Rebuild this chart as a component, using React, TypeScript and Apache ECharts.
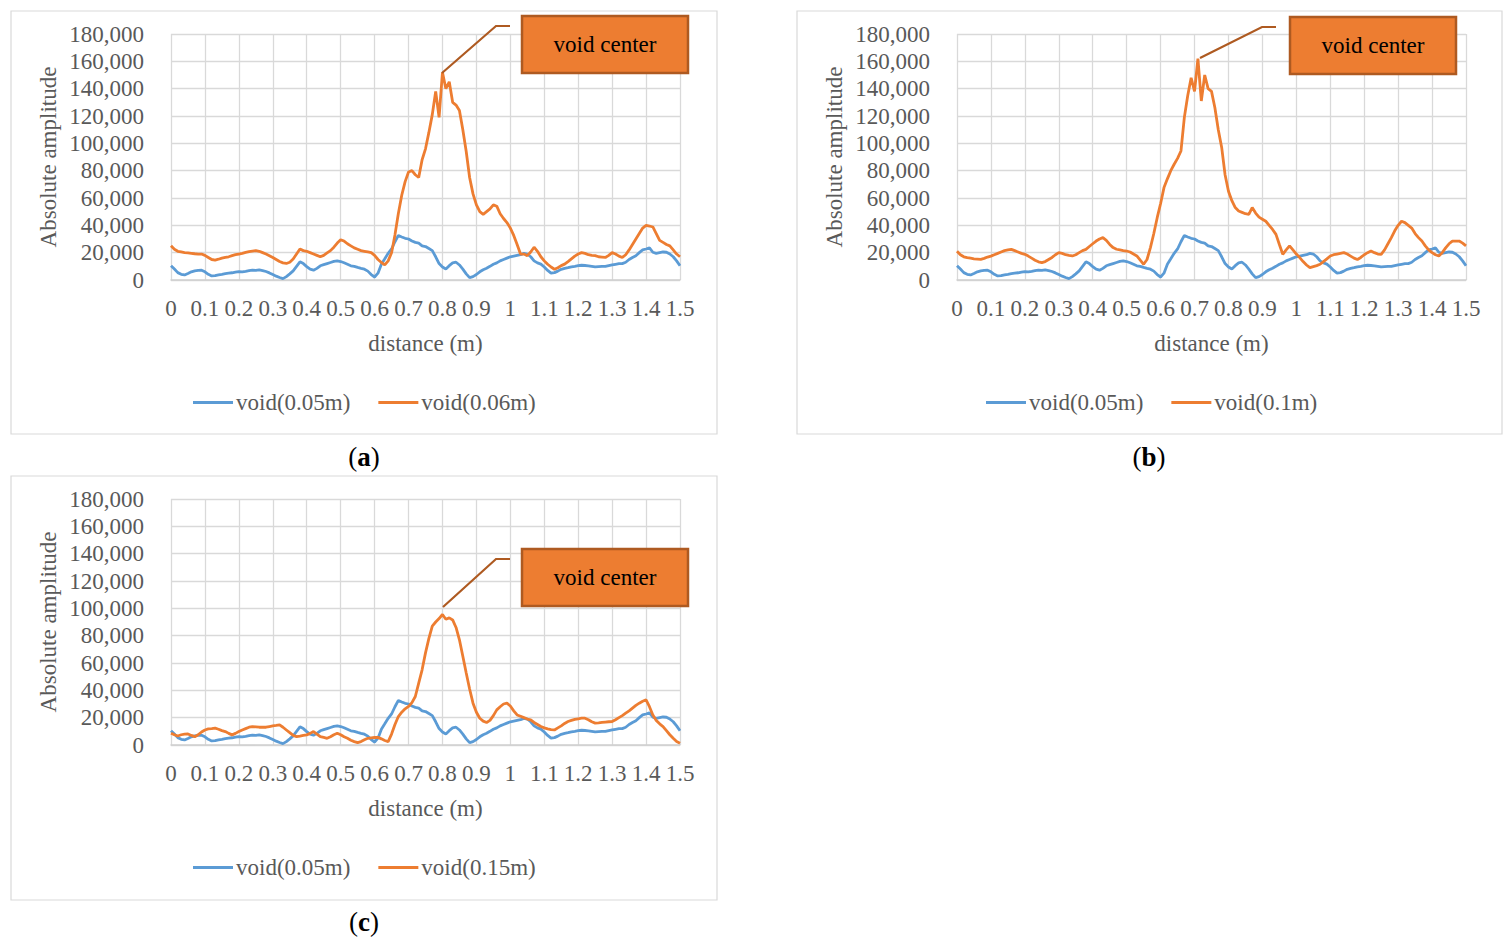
import React, { useEffect, useRef } from "react";
import * as echarts from "echarts";

// distance grid (m): 0.00 .. 1.50 step 0.01
const distances: number[] = Array.from({ length: 151 }, (_, i) => Math.round(i) / 100);

const void005: number[] = [
  10400, 8000, 5400, 4200, 3700, 4800, 6000, 6700, 7000, 7200,
  6000, 4200, 3000, 3200, 3800, 4200, 4700, 5000, 5300, 5800,
  6200, 5900, 6300, 6800, 7200, 7000, 7400, 6900, 6200, 5200,
  4000, 2800, 1800, 1000, 2500, 4500, 6700, 10000, 13300, 12000,
  9800, 7900, 7200, 8500, 10400, 11200, 12000, 12800, 13600, 14000,
  13500, 12600, 11500, 10400, 10000, 9200, 8500, 7900, 6500, 4000,
  2200, 5000, 11600, 15500, 19500, 22700, 28000, 32600, 31500, 30500,
  30000, 28500, 27500, 27000, 25000, 24500, 23000, 21500, 17000, 12000,
  9500, 8000, 10500, 12500, 13000, 11000, 8000, 4500, 1700, 2500,
  4000, 6000, 7500, 8600, 10000, 11500, 12500, 14000, 15000, 16000,
  17000, 17500, 18000, 18500, 19500, 19000, 17000, 14000, 12500, 11600,
  9500, 7000, 5000, 5400, 6500, 7800, 8500, 9000, 9600, 10000,
  10500, 10800, 10600, 10400, 10000, 9600, 9800, 9900, 9900, 10500,
  11000, 11500, 12000, 12000, 13000, 15000, 16500, 17800, 20000, 22000,
  22700, 23500, 20300, 19500, 20000, 20500, 20300, 19000, 17000, 14000,
  10400,
];

const void006: number[] = [
  25000, 22500, 21000, 20500, 20000, 19800, 19500, 19200, 19000, 19000,
  18000, 16500, 15000, 14600, 15200, 16000, 16500, 17000, 17800, 18500,
  19000, 19500, 20200, 20800, 21200, 21500, 21000, 20000, 19000, 17800,
  16500, 15000, 13500, 12500, 12100, 13000, 15300, 19000, 22700, 21500,
  21000, 20000, 19000, 18000, 17000, 18000, 19800, 21500, 24000, 27000,
  29400, 28500, 26500, 25000, 23500, 22500, 21500, 21000, 20500, 20000,
  18000, 15000, 12800, 11000, 14000, 20000, 33000, 48600, 62000, 72000,
  79000, 80000, 77000, 75000, 88000, 96000, 108000, 121000, 138000, 119000,
  152000, 140000, 145000, 130000, 128000, 124000, 110000, 94000, 75000, 63000,
  55000, 50000, 48000, 50000, 52000, 55000, 54000, 48500, 45000, 42000,
  38000, 32600, 26000, 19000, 19000, 17800, 20500, 24000, 21000, 17000,
  14000, 11500, 9500, 7900, 9000, 10500, 11600, 13500, 15500, 17500,
  19000, 20000, 19500, 18500, 18000, 17800, 17000, 16800, 16500, 18000,
  20000, 19000, 17500, 16500, 18500, 22000, 26000, 30000, 34000, 38000,
  40000, 39500, 38800, 34000, 29000, 27500, 26000, 25000, 22000, 19000,
  17000,
];

const void01: number[] = [
  21000, 18500, 17000, 16400, 16000, 15500, 15300, 15100, 15800, 16800,
  17500, 18500, 19500, 20500, 21500, 22000, 22400, 21500, 20500, 19500,
  18800, 17500, 16000, 14500, 13300, 12700, 13500, 15000, 16500, 18500,
  20000, 19500, 18500, 18000, 17600, 18500, 20000, 21500, 22400, 24500,
  26500, 28500, 30000, 31000, 29000, 26000, 23700, 22500, 22000, 21500,
  21200, 20500, 19000, 17600, 14500, 11500, 15000, 23700, 34000, 45600,
  56000, 67600, 74000, 80000, 84700, 89000, 94400, 119000, 135000, 148000,
  138000, 162000, 131000, 150000, 140000, 138000, 126000, 110000, 97000, 77000,
  65000, 58000, 53000, 50500, 49500, 48500, 48000, 53000, 49000, 46000,
  44500, 43000, 40000, 37000, 33400, 26000, 18800, 22000, 25000, 22000,
  19000, 16400, 13500, 11000, 9000, 9800, 10500, 11500, 13500, 15500,
  17600, 18500, 19000, 19500, 20000, 19000, 17500, 16000, 15000, 16500,
  18500, 20000, 21200, 20000, 19000, 18800, 22000, 26500, 31000, 36000,
  40000, 43000, 42000, 40000, 38000, 34000, 31000, 28500, 25000, 22000,
  20000, 18500, 17600, 20000, 23500, 26500, 28500, 28500, 28500, 27000,
  25000,
];

const void015: number[] = [
  8600, 7500, 6600, 7500, 8000, 8100, 7000, 6100, 7500, 9500,
  11000, 11800, 12000, 12300, 11500, 10500, 9800, 8500, 7400, 8500,
  9800, 11000, 12000, 13000, 13500, 13300, 13000, 13000, 13000, 13500,
  14000, 14300, 14700, 13000, 11000, 9000, 7000, 6100, 6500, 7000,
  7400, 8500, 9800, 8000, 6100, 5500, 4900, 6000, 7500, 8600,
  7500, 6000, 4900, 3500, 2500, 1700, 2500, 3800, 4900, 5200,
  5500, 5600, 4500, 3300, 2500, 8000, 15000, 20800, 24000, 26500,
  28200, 31000, 35500, 45300, 55000, 67400, 78000, 87000, 90000, 92500,
  95500, 92000, 93000, 91500, 86000, 77000, 65000, 52700, 41000, 30600,
  24000, 19600, 17500, 16500, 18000, 21500, 25700, 28000, 30000, 30600,
  28500, 25000, 22000, 21000, 20000, 19000, 18400, 16500, 15000, 13500,
  12500, 11800, 11200, 11000, 12500, 14000, 15800, 17200, 18000, 18800,
  19200, 19600, 19600, 18500, 17000, 16000, 16200, 16500, 16800, 17000,
  17200, 18500, 20000, 21500, 23300, 25000, 27000, 29000, 30600, 32000,
  33000, 28000, 22000, 18000, 15500, 13500, 10500, 7500, 4900, 2500,
  1200,
];

const panelLabels: string[] = ["a", "b", "c"];
const seriesNames: string[][] = [
  ["void(0.05m)", "void(0.06m)"],
  ["void(0.05m)", "void(0.1m)"],
  ["void(0.05m)", "void(0.15m)"],
];
const annotationText = "void center";
const yTitle = "Absolute amplitude";
const xTitle = "distance (m)";

const SERIF = "'Liberation Serif', 'Times New Roman', serif";
const GRAY = "#595959";
const BLUE = "#5B9BD5";
const ORANGE = "#ED7D31";
const BROWN = "#AE5A21";

export default function App() {
  const ref = useRef<HTMLDivElement>(null);

  useEffect(() => {
    if (!ref.current) return;
    const chart = echarts.init(ref.current, undefined, { renderer: "svg" });

    const panels = [
      { left: 171, top: 34, box: [11, 11, 706, 423], legendLeft: 193, legendTop: 391, label: [364, 457], orange: void006,
        ann: { peak: [442, 73], elbow: [496, 26], end: [510, 26], box: [522, 16, 166, 57] } },
      { left: 957, top: 34, box: [797, 11, 705, 423], legendLeft: 986, legendTop: 391, label: [1149, 457], orange: void01,
        ann: { peak: [1200, 58], elbow: [1262, 27], end: [1276, 27], box: [1290, 17, 166, 57] } },
      { left: 171, top: 499, box: [11, 476, 706, 424], legendLeft: 193, legendTop: 856, label: [364, 922], orange: void015,
        ann: { peak: [443, 607], elbow: [496, 559], end: [510, 559], box: [522, 549, 166, 57] } },
    ];

    const grid: any[] = [];
    const xAxis: any[] = [];
    const yAxis: any[] = [];
    const series: any[] = [];
    const legend: any[] = [];
    const graphic: any[] = [];

    panels.forEach((p, k) => {
      graphic.push({
        type: "rect",
        z: -10,
        silent: true,
        shape: { x: p.box[0], y: p.box[1], width: p.box[2], height: p.box[3] },
        style: { fill: "#ffffff", stroke: "#d9d9d9", lineWidth: 1.2 },
      });
      grid.push({ left: p.left, top: p.top, width: 509, height: 246 });
      xAxis.push({
        type: "value",
        gridIndex: k,
        min: 0,
        max: 1.5,
        interval: 0.1,
        name: xTitle,
        nameLocation: "middle",
        nameGap: 52,
        nameTextStyle: { fontFamily: SERIF, fontSize: 23, color: GRAY },
        axisLine: { show: true, lineStyle: { color: "#d0d0d0", width: 1.5 } },
        axisTick: { show: false },
        axisLabel: {
          fontFamily: SERIF,
          fontSize: 23,
          color: GRAY,
          margin: 17,
          formatter: (v: number) => String(Math.round(v * 10) / 10),
        },
        splitLine: { show: true, lineStyle: { color: "#d9d9d9", width: 1.3 } },
      });
      yAxis.push({
        type: "value",
        gridIndex: k,
        min: 0,
        max: 180000,
        interval: 20000,
        name: yTitle,
        nameLocation: "middle",
        nameGap: 111,
        nameTextStyle: { fontFamily: SERIF, fontSize: 23, color: GRAY },
        axisLine: { show: false },
        axisTick: { show: false },
        axisLabel: {
          fontFamily: SERIF,
          fontSize: 23,
          color: GRAY,
          margin: 27,
          formatter: (v: number) => v.toLocaleString("en-US"),
        },
        splitLine: { show: true, lineStyle: { color: "#d9d9d9", width: 1.3 } },
      });
      series.push({
        type: "line",
        name: seriesNames[k][0],
        xAxisIndex: k,
        yAxisIndex: k,
        data: distances.map((d, i) => [d, void005[i]]),
        symbol: "none",
        lineStyle: { color: BLUE, width: 2.8 },
        itemStyle: { color: BLUE },
        z: 2,
      });
      series.push({
        type: "line",
        name: seriesNames[k][1],
        xAxisIndex: k,
        yAxisIndex: k,
        data: distances.map((d, i) => [d, p.orange[i]]),
        symbol: "none",
        lineStyle: { color: ORANGE, width: 2.8 },
        itemStyle: { color: ORANGE },
        z: 3,
      });
      legend.push({
        left: p.legendLeft,
        top: p.legendTop,
        data: seriesNames[k].map((n, j) => ({ name: n, itemStyle: { color: j === 0 ? BLUE : ORANGE } })),
        icon: "rect",
        itemWidth: 40,
        itemHeight: 3,
        itemGap: 28,
        padding: 0,
        selectedMode: false,
        textStyle: { fontFamily: SERIF, fontSize: 23, color: GRAY, padding: [0, 0, 0, -2] },
      });
      // annotation callout
      const a = p.ann;
      graphic.push({
        type: "polyline",
        z: 20,
        shape: { points: [a.peak, a.elbow, a.end] },
        style: { stroke: BROWN, lineWidth: 2.2, fill: null },
      });
      graphic.push({
        type: "rect",
        z: 20,
        shape: { x: a.box[0], y: a.box[1], width: a.box[2], height: a.box[3] },
        style: { fill: ORANGE, stroke: BROWN, lineWidth: 2.5 },
      });
      graphic.push({
        type: "text",
        z: 21,
        x: a.box[0] + a.box[2] / 2,
        y: a.box[1] + a.box[3] / 2,
        style: {
          text: annotationText,
          fontFamily: SERIF,
          fontSize: 23,
          fill: "#000000",
          align: "center",
          verticalAlign: "middle",
        },
      });
      // panel label
      graphic.push({
        type: "text",
        x: p.label[0],
        y: p.label[1],
        style: {
          text: "{p|(}{b|" + panelLabels[k] + "}{p|)}",
          align: "center",
          verticalAlign: "middle",
          rich: {
            p: { fontFamily: SERIF, fontSize: 27, color: "#000" },
            b: { fontFamily: SERIF, fontSize: 27, fontWeight: "bold", color: "#000" },
          },
        },
      });
    });

    chart.setOption({
      animation: false,
      backgroundColor: "#ffffff",
      grid,
      xAxis,
      yAxis,
      series,
      legend,
      graphic,
    });

    return () => chart.dispose();
  }, []);

  return (
    <div
      ref={ref}
      style={{ position: "fixed", left: 0, top: 0, width: 1512, height: 947, background: "#fff" }}
    />
  );
}
